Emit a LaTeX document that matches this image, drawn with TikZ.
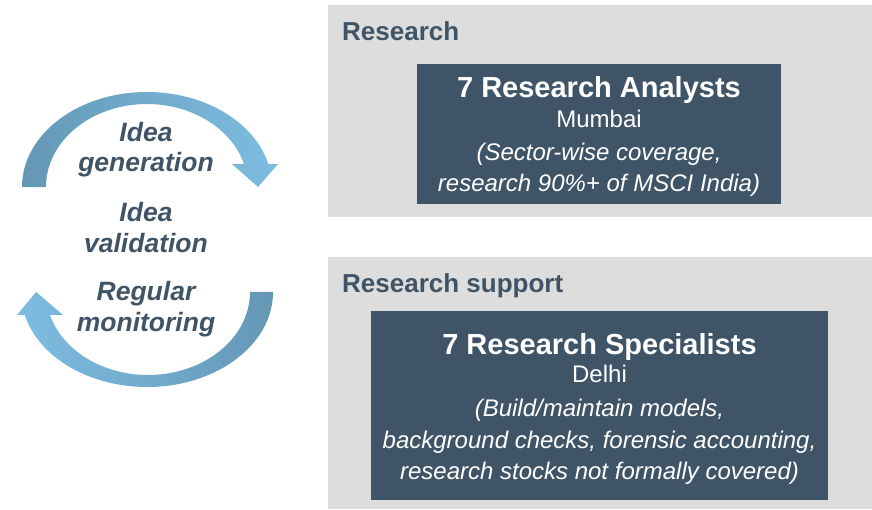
\documentclass[tikz,border=0pt]{standalone}
\usepackage{fontspec}
\setmainfont{Liberation Sans}
\usetikzlibrary{positioning}
\definecolor{panelgray}{HTML}{DDDDDD}
\definecolor{boxblue}{HTML}{405467}
\definecolor{txtdark}{HTML}{3F5467}
\definecolor{arcdark}{HTML}{6497B4}
\definecolor{arclight}{HTML}{7DBCE1}
\tikzset{
  panel/.style={fill=panelgray, draw=none},
  darkbox/.style={fill=boxblue, draw=none},
  boxtitle/.style={anchor=base, text=white, font=\fontsize{29}{29}\selectfont\bfseries, inner sep=0pt},
  boxsub/.style={anchor=base, text=white, font=\fontsize{24}{24}\selectfont, inner sep=0pt},
  boxnote/.style={anchor=base, text=white, font=\fontsize{24}{24}\selectfont\itshape, inner sep=0pt},
  panellabel/.style={anchor=base west, text=txtdark, font=\fontsize{26}{26}\selectfont\bfseries, inner sep=0pt},
  cyctext/.style={anchor=base, text=txtdark, font=\fontsize{26.5}{26.5}\selectfont\bfseries\itshape, inner sep=0pt}
}
\begin{document}
\begin{tikzpicture}[x=1pt,y=1pt]
\useasboundingbox (0,0) rectangle (872,509);
% panels
\fill[panel] (328,292) rectangle (872,504);
\fill[panel] (328,0) rectangle (872,252);
\node[panellabel] (lab1) at (342,468) {Research};
\node[panellabel] (lab2) at (342,216) {Research support};
% top dark box
\fill[darkbox] (417,305) rectangle (781,445);
\node[boxtitle] (t1) at (599,411.5) {7 Research Analysts};
\node[boxsub] (s1) at (599,381.5) {Mumbai};
\node[boxnote] (n1a) at (599,348.5) {(Sector-wise coverage,};
\node[boxnote] (n1b) at (599,317.5) {research 90\%+ of MSCI India)};
% bottom dark box
\fill[darkbox] (371,9) rectangle (828,198);
\node[boxtitle] (t2) at (599.5,154.5) {7 Research Specialists};
\node[boxsub] (s2) at (599.5,126.5) {Delhi};
\node[boxnote] (n2a) at (599.5,92.5) {(Build/maintain models,};
\node[boxnote] (n2b) at (599.5,60.5) {background checks, forensic accounting,};
\node[boxnote] (n2c) at (599.5,29.5) {research stocks not formally covered)};
% top curved arrow
\shade[left color=arcdark, right color=arclight, middle color=arcdark!45!arclight]
  (22,322) arc[start angle=180, end angle=14, x radius=125, y radius=95]
  -- (278,345) -- (258,322) -- (232,345) -- (244,345)
  arc[start angle=16.1, end angle=180, x radius=101, y radius=83] -- cycle;
% bottom curved arrow
\shade[left color=arclight, right color=arcdark, middle color=arcdark!45!arclight]
  (273,217) arc[start angle=0, end angle=-166, x radius=126, y radius=95]
  -- (17,194) -- (36,217) -- (63,194) -- (50,194)
  arc[start angle=-163.9, end angle=0, x radius=102, y radius=83] -- cycle;
% cycle texts
\node[cyctext] (c1) at (146,367) {Idea};
\node[cyctext] (c2) at (146,337) {generation};
\node[cyctext] (c3) at (146,287) {Idea};
\node[cyctext] (c4) at (146,256) {validation};
\node[cyctext] (c5) at (146,208) {Regular};
\node[cyctext] (c6) at (146,178) {monitoring};
\end{tikzpicture}
\end{document}
